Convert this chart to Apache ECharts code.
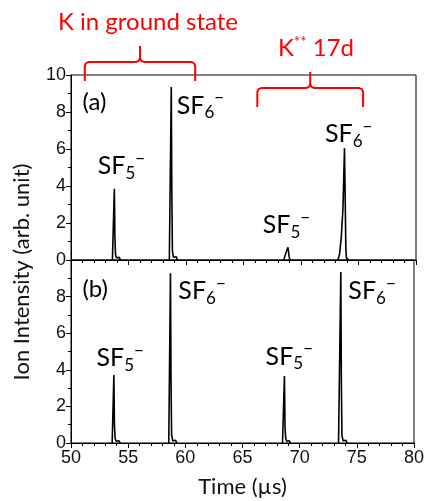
<!DOCTYPE html>
<html>
<head>
<meta charset="utf-8">
<script src="https://cdn.jsdelivr.net/npm/echarts@6.0.0/dist/echarts.min.js"></script>
<style>
  html, body { margin: 0; padding: 0; background: #fff; }
  #chart { width: 427px; height: 501px; }
</style>
</head>
<body>
<div id="chart"></div>
<script>
// time axis (µs) ticks
const xTicks = [50, 55, 60, 65, 70, 75, 80];
const yTicks = [0, 2, 4, 6, 8, 10];

// panel (a): K in ground state + K** 17d, [time, intensity]; '-' breaks the trace
const traceA = [
  [53.6, 0], [53.7, 0.1], [53.77, 3.85], [53.82, 1.2], [53.87, 0.3], [53.95, 0.12],
  [54.0, 0.22], [54.1, 0.05], [54.2, 0.14], [54.3, 0], [54.3, '-'],
  [58.55, 0], [58.65, 0.1], [58.72, 9.35], [58.77, 3.5], [58.82, 0.5], [58.9, 0.15],
  [58.97, 0.25], [59.05, 0.05], [59.15, 0.18], [59.25, 0], [59.25, '-'],
  [68.5, 0], [68.62, 0.25], [68.75, 0.5], [68.87, 0.69], [68.93, 0.35], [69.0, 0.08], [69.1, 0], [69.1, '-'],
  [73.2, 0], [73.35, 0.3], [73.5, 1.2], [73.65, 2.8], [73.78, 6.04], [73.85, 3.0], [73.9, 0.6],
  [73.95, 0.1], [74.05, 0.15], [74.15, 0]
];

// panel (b)
const traceB = [
  [53.6, 0], [53.68, 0.1], [53.75, 3.72], [53.8, 1.0], [53.86, 0.25], [53.95, 0.1],
  [54.0, 0.2], [54.1, 0.05], [54.2, 0.12], [54.3, 0], [54.3, '-'],
  [58.55, 0], [58.63, 0.1], [58.7, 9.27], [58.75, 3.4], [58.8, 0.45], [58.9, 0.12],
  [58.97, 0.22], [59.05, 0.05], [59.15, 0.15], [59.25, 0], [59.25, '-'],
  [68.5, 0], [68.6, 0.1], [68.67, 3.66], [68.72, 0.9], [68.78, 0.25], [68.87, 0.1],
  [68.93, 0.18], [69.0, 0.05], [69.1, 0.12], [69.2, 0], [69.2, '-'],
  [73.4, 0], [73.5, 0.1], [73.6, 9.34], [73.65, 3.2], [73.7, 0.4], [73.8, 0.12],
  [73.87, 0.22], [73.95, 0.05], [74.05, 0.15], [74.15, 0]
];

// ion labels: [panel, time where text starts, baseline intensity, subscript]
const ionLabels = [
  [0, 52.32, 4.7, '5'], [0, 59.19, 7.95, '6'], [0, 66.67, 1.51, '5'], [0, 72.09, 6.43, '6'],
  [1, 52.23, 4.26, '5'], [1, 59.39, 7.92, '6'], [1, 67.02, 4.32, '5'], [1, 74.26, 7.92, '6']
];
const panelTags = [[0, 51.0, 8.5, '(a)'], [1, 51.0, 8.4, '(b)']];

// braces over the upper panel: [start µs, end µs]
const braces = [[51.2, 60.8], [66.2, 75.4]];

let chart = echarts.init(document.getElementById('chart'));

function xAxisCfg(idx, showLabel) {
  return {
    type: 'value', gridIndex: idx, min: 50, max: 80, interval: 5,
    axisLine: { show: true, lineStyle: { color: '#000', width: 1 } },
    axisTick: { show: true, inside: false, length: 5, lineStyle: { color: '#000' } },
    minorTick: { show: true, splitNumber: 5, length: 3, lineStyle: { color: '#000' } },
    splitLine: { show: false },
    axisLabel: { show: showLabel, color: '#111', fontSize: 18, fontFamily: 'Liberation Sans', margin: 6 },
    name: showLabel ? 'Time (µs)' : '',
    nameLocation: 'middle', nameGap: 33,
    nameTextStyle: { color: '#111', fontSize: 22, fontFamily: 'Lato' }
  };
}
function yAxisCfg(idx, hideTop) {
  return {
    type: 'value', gridIndex: idx, min: 0, max: 10, interval: 2,
    axisLine: { show: true, lineStyle: { color: '#000', width: 1 } },
    axisTick: { show: true, inside: false, length: 5, lineStyle: { color: '#000' } },
    minorTick: { show: true, splitNumber: 2, length: 3, lineStyle: { color: '#000' } },
    splitLine: { show: false },
    axisLabel: {
      color: '#111', fontSize: 18, fontFamily: 'Liberation Sans', margin: 5,
      formatter: v => (hideTop && v === 10) ? '' : String(v)
    }
  };
}
function seriesCfg(idx, data) {
  return {
    type: 'line', xAxisIndex: idx, yAxisIndex: idx, data: data,
    showSymbol: false, symbol: 'none', animation: false, connectNulls: false,
    lineStyle: { color: '#000', width: 1.6 }
  };
}

let option = {
  animation: false,
  grid: [
    { left: 71, right: 11, top: 75, height: 185, show: true, borderColor: '#000', borderWidth: 1 },
    { left: 71, right: 11, top: 260, height: 183, show: true, borderColor: '#000', borderWidth: 1 }
  ],
  xAxis: [xAxisCfg(0, false), xAxisCfg(1, true)],
  yAxis: [yAxisCfg(0, false), yAxisCfg(1, true)],
  series: [seriesCfg(0, traceA), seriesCfg(1, traceB)]
};
chart.setOption(option);

// annotations placed through the axes
let px = (g, x, y) => chart.convertToPixel({ gridIndex: g }, [x, y]);
let graphics = [];

ionLabels.forEach(function (l) {
  let p = px(l[0], l[1], l[2]);
  graphics.push({
    type: 'text', x: p[0], y: p[1] + 8,
    style: {
      text: '{m|SF}{s|' + l[3] + '}{u|−}',
      verticalAlign: 'bottom', align: 'left',
      rich: {
        m: { fontSize: 25, fontFamily: 'Lato', fill: '#000', lineHeight: 30 },
        s: { fontSize: 17, fontFamily: 'Lato', fill: '#000', padding: [14, 0, 0, 0], lineHeight: 30 },
        u: { fontSize: 17, fontFamily: 'Lato', fill: '#000', padding: [0, 0, 16, 0], lineHeight: 30 }
      }
    }
  });
});

panelTags.forEach(function (t) {
  let p = px(t[0], t[1], t[2]);
  graphics.push({
    type: 'text', x: p[0], y: p[1],
    style: { text: t[3], fontSize: 24, fontFamily: 'Lato', fill: '#000', verticalAlign: 'middle' }
  });
});

braces.forEach(function (b, i) {
  let a = px(0, b[0], 10), c = px(0, b[1], 10);
  let x0 = a[0], x1 = c[0], xm = (x0 + x1) / 2;
  let yb = i === 0 ? 62 : 88, drop = 19, tip = 16;
  let left = [[x0, yb + drop], [x0, yb + 4], [x0 + 1.2, yb + 1.2], [x0 + 4, yb],
    [xm - 4, yb], [xm - 1.2, yb - 1.2], [xm, yb - 4], [xm, yb - tip]];
  let right = [[x1, yb + drop], [x1, yb + 4], [x1 - 1.2, yb + 1.2], [x1 - 4, yb],
    [xm + 4, yb], [xm + 1.2, yb - 1.2], [xm, yb - 4]];
  [left, right].forEach(function (pts) {
    graphics.push({
      type: 'polyline', shape: { points: pts },
      style: { fill: null, stroke: '#ff0000', lineWidth: 2 }
    });
  });
});

graphics.push({
  type: 'text', x: 148, y: 22,
  style: { text: 'K in ground state', fontSize: 24, fontFamily: 'Lato', fill: '#ff0000', align: 'center', verticalAlign: 'middle' }
});
graphics.push({
  type: 'text', x: 316, y: 48,
  style: {
    text: '{k|K}{u|**}{k| 17d}', align: 'center', verticalAlign: 'middle',
    rich: {
      k: { fontSize: 24, fontFamily: 'Lato', fill: '#ff0000', lineHeight: 30 },
      u: { fontSize: 15, fontFamily: 'Lato', fill: '#ff0000', padding: [0, 0, 12, 0], lineHeight: 30 }
    }
  }
});
graphics.push({
  type: 'text', x: 22, y: 272, rotation: Math.PI / 2,
  style: { text: 'Ion Intensity (arb. unit)', fontSize: 22, fontFamily: 'Lato', fill: '#111', align: 'center', verticalAlign: 'middle' }
});

chart.setOption({ graphic: graphics });
</script>
</body>
</html>
